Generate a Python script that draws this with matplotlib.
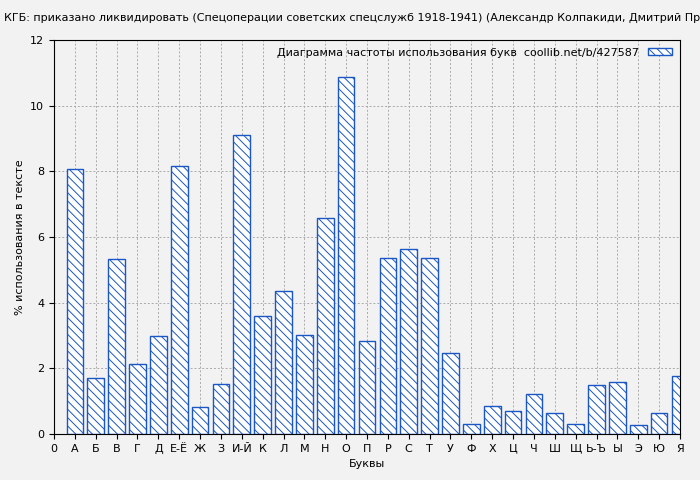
import matplotlib.pyplot as plt
import matplotlib as mpl

letters = ['А', 'Б', 'В', 'Г', 'Д', 'Е-Ё', 'Ж', 'З', 'И-Й', 'К', 'Л', 'М', 'Н', 'О', 'П',
           'Р', 'С', 'Т', 'У', 'Ф', 'Х', 'Ц', 'Ч', 'Ш', 'Щ', 'Ь-Ъ', 'Ы', 'Э', 'Ю', 'Я']
values = [8.07, 1.72, 5.33, 2.12, 3.0, 8.15, 0.82, 1.52, 9.12, 3.6, 4.37, 3.03, 6.58, 10.88, 2.83,
          5.37, 5.63, 5.37, 2.48, 0.3, 0.85, 0.7, 1.22, 0.65, 0.3, 1.48, 1.58, 0.27, 0.65, 1.78]

mpl.rcParams['hatch.color'] = '#1a56c4'
mpl.rcParams['hatch.linewidth'] = 0.7
bg = '#f2f2f2'
fig = plt.figure(figsize=(7, 4.8), dpi=100, facecolor=bg)
ax = fig.add_axes([54 / 700, 46 / 480, 626 / 700, 394 / 480], facecolor=bg)

pos = list(range(1, len(letters) + 1))
ax.bar(pos, values, width=0.8, facecolor='white', edgecolor='#1a56c4', hatch='\\\\\\\\',
       linewidth=1, zorder=2, label='Диаграмма частоты использования букв  coollib.net/b/427587')

ax.set_xlim(0, len(letters))
ax.set_ylim(0, 12)
ax.set_xticks([0] + pos)
ax.set_xticklabels(['0'] + letters, fontsize=8)
ax.set_yticks(range(0, 13, 2))
ax.tick_params(labelsize=8, direction='out')
ax.grid(True, linestyle=(0, (2, 2)), color='#aaaaaa', linewidth=0.7, zorder=0)
ax.set_xlabel('Буквы', fontsize=8)
ax.set_ylabel('% использования в тексте', fontsize=8)
ax.legend(loc='upper right', fontsize=8, frameon=False, markerfirst=False,
          handlelength=2.2, handleheight=0.6, borderaxespad=0.3)
# title is cut at the right edge, as in the original
fig.text(4 / 700, 1 - 18 / 480, 'КГБ: приказано ликвидировать (Спецоперации советских спецслужб 1918-1941) '
         '(Александр Колпакиди, Дмитрий Прохоров)', fontsize=8, va='center', ha='left')
fig.savefig('out.png', facecolor=bg)
